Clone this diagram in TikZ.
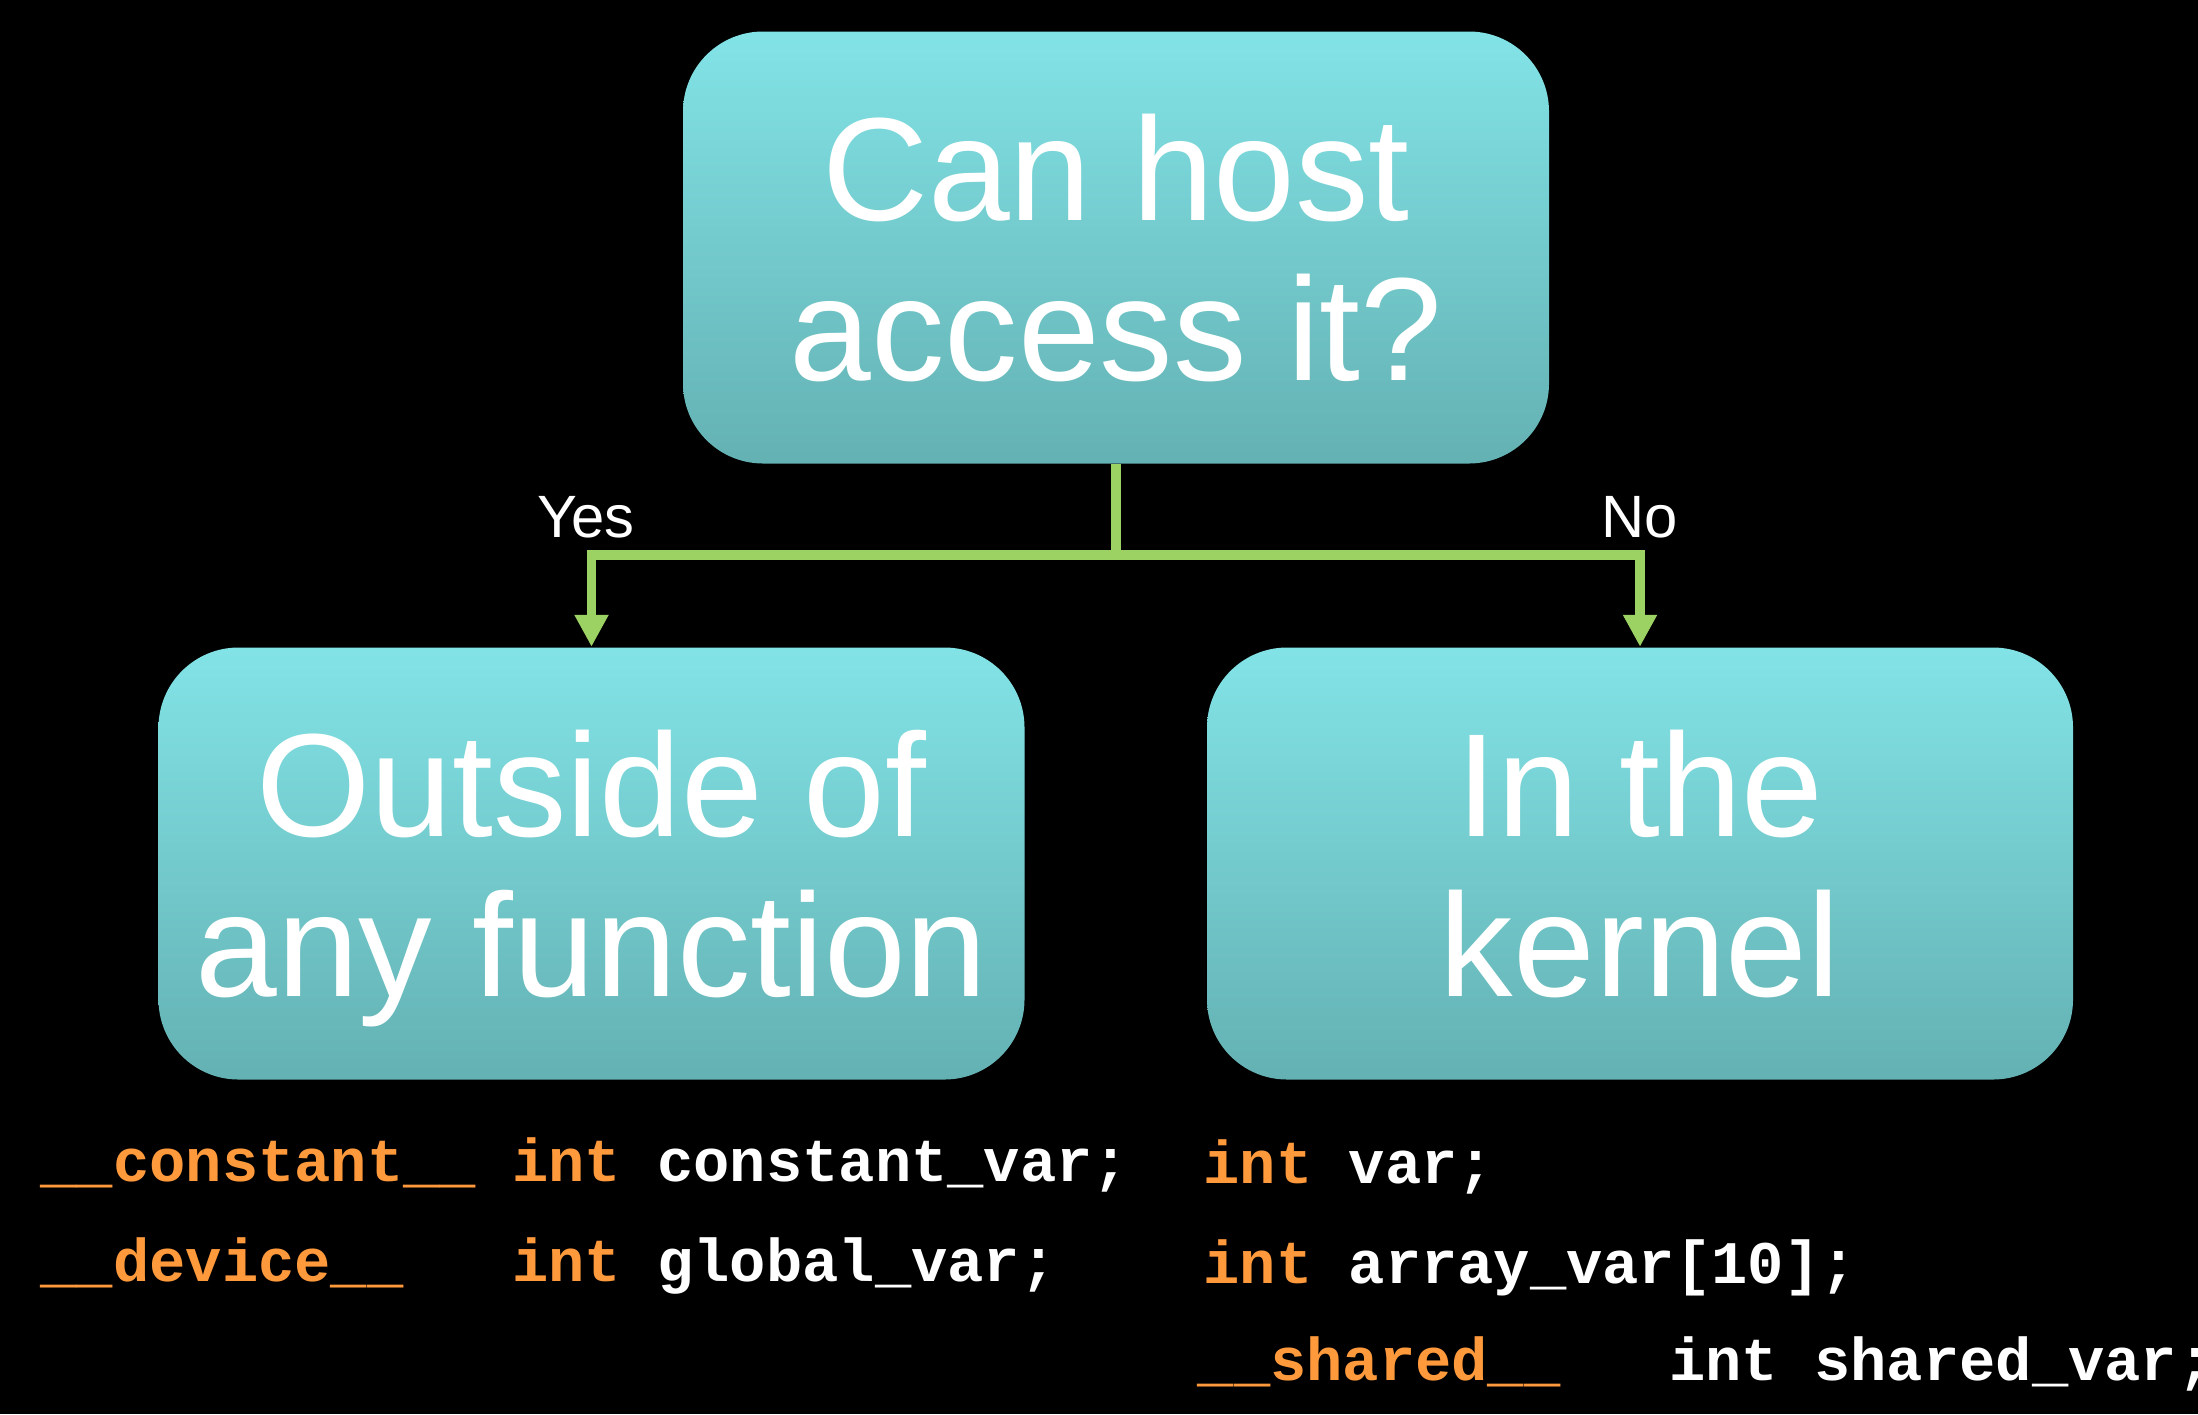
\documentclass[tikz,border=0pt]{standalone}
\usepackage{fontspec}
\setmainfont{Liberation Sans}
\setmonofont{Liberation Mono}
\usetikzlibrary{arrows.meta,positioning}

\definecolor{boxtop}{HTML}{82E3E6}
\definecolor{boxbottom}{HTML}{64B1B3}
\definecolor{branch}{HTML}{9CD163}
\definecolor{keyword}{HTML}{FF9A3C}
\newcommand{\kw}[1]{\textcolor{keyword}{#1}}

\begin{document}
\begin{tikzpicture}[
    >={Triangle[length=3.2mm,width=3.2mm]},
    question/.style={
        rectangle,
        rounded corners=8mm,
        top color=boxtop,
        bottom color=boxbottom,
        minimum width=8.66cm,
        minimum height=4.32cm,
        text=white,
        align=center,
        inner sep=0pt,
        text depth=0pt,
        font=\fontsize{41.8}{45.5}\selectfont
    },
    answer/.style={
        text=white,
        anchor=base,
        font=\fontsize{17}{20}\selectfont
    },
    decl/.style={
        text=white,
        anchor=base west,
        inner sep=0pt,
        font=\ttfamily\bfseries\fontsize{17.2}{20}\selectfont
    },
    branchline/.style={
        draw=branch,
        line width=2.8pt
    }
]

% Page
\fill[black] (0,0) rectangle (21.98,-14.14);
\useasboundingbox (0,0) rectangle (21.98,-14.14);

% Question
\node[question] (host) at (11.16,-2.475) {Can host\\access it?};

% Answers
\node[question] (outside) at (5.915,-8.635) {Outside of\\any function};
\node[question] (kernel) at (16.40,-8.635) {In the\\kernel};

% Branches
\coordinate (split) at (11.16,-5.55);
\draw[branchline] (host) -- (split);
\draw[branchline,->] (split) -| (outside);
\draw[branchline,->] (split) -| (kernel);

\node[answer] (yes) at (5.86,-5.37) {Yes};
\node[answer] (no) at (16.40,-5.37) {No};

% Declarations
\node[decl] (constdecl) at (0.40,-11.81) {\kw{\_\_constant\_\_}~\kw{int}~constant\_var;};
\node[decl] (devdecl) at (0.40,-12.81) {\kw{\_\_device\_\_}~~~\kw{int}~global\_var;};
\node[decl] (vardecl) at (12.03,-11.83) {\kw{int}~var;};
\node[decl] (arraydecl) at (12.03,-12.83) {\kw{int}~array\_var[10];};
\node[decl] (shareddecl) at (11.97,-13.80) {\kw{\_\_shared\_\_}~~~int~shared\_var;};

\end{tikzpicture}
\end{document}
